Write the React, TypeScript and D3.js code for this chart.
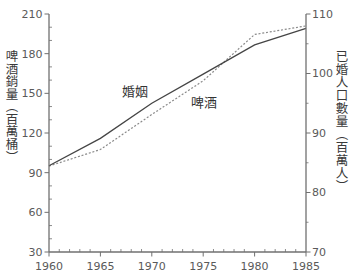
import React from "react";
import * as d3 from "d3";

const years = [1960, 1965, 1970, 1975, 1980, 1985];
const beerSales = [95, 107.5, 134, 159.5, 194.5, 201];
const marriedPop = [84.5, 89.1, 95.0, 99.9, 104.8, 107.6];
const leftTicks = [30, 60, 90, 120, 150, 180, 210];
const rightTicks = [70, 80, 90, 100, 110];
const xTicks = [1960, 1965, 1970, 1975, 1980, 1985];
const leftTitle = "啤酒銷量（百萬桶）";
const rightTitle = "已婚人口數量（百萬人）";
const marriageLabel = "婚姻";
const beerLabel = "啤酒";

const W = 359;
const H = 278;
const axisColor = "#707070";
const textColor = "#5a5a5a";
const numFont = "'DejaVu Sans', sans-serif";
const cjkFont = "'Noto Sans CJK TC', 'Noto Sans CJK SC', sans-serif";

export default function App() {
  const x = d3.scaleLinear().domain([1960, 1985]).range([49, 306]);
  const yL = d3.scaleLinear().domain([30, 210]).range([252, 14]);
  const yR = d3.scaleLinear().domain([70, 110]).range([252, 14]);

  const beerLine = d3
    .line<number>()
    .x((_, i) => x(years[i]))
    .y((d) => yL(d));
  const marLine = d3
    .line<number>()
    .x((_, i) => x(years[i]))
    .y((d) => yR(d));

  const leftMinor = d3.range(30, 211, 10).filter((v) => v % 30 !== 0);
  const rightMinor = d3.range(70, 111, 5).filter((v) => v % 10 !== 0);
  const xMinor = d3.range(1960, 1986, 1).filter((v) => v % 5 !== 0);

  const x0 = x(1960);
  const x1 = x(1985);
  const yb = yL(30);
  const yt = yL(210);

  const vstyle = { writingMode: "vertical-rl", textOrientation: "upright" } as any;

  return (
    <div style={{ position: "fixed", left: 0, top: 0, background: "#fff" }}>
      <svg width={W} height={H} style={{ display: "block" }}>
        <rect width={W} height={H} fill="#fff" />
        <path d={beerLine(beerSales) || ""} fill="none" stroke="#8a8a8a" strokeWidth={1.2} strokeDasharray="2,1.8" />
        <path d={marLine(marriedPop) || ""} fill="none" stroke="#454545" strokeWidth={1.3} />

        <line x1={x0} x2={x0} y1={yt} y2={yb} stroke={axisColor} strokeWidth={1.3} />
        <line x1={x1} x2={x1} y1={yt} y2={yb} stroke={axisColor} strokeWidth={1.3} />
        <line x1={x0} x2={x1} y1={yb} y2={yb} stroke={axisColor} strokeWidth={1.3} />

        {leftTicks.map((v) => (
          <g key={"l" + v}>
            <line x1={x0 - 4.5} x2={x0} y1={yL(v)} y2={yL(v)} stroke={axisColor} strokeWidth={1} />
            <text x={x0 - 6.5} y={yL(v)} dy="0.35em" textAnchor="end" fontFamily={numFont} fontSize={11} fill={textColor}>
              {v}
            </text>
          </g>
        ))}
        {leftMinor.map((v) => (
          <line key={"lm" + v} x1={x0} x2={x0 + 3} y1={yL(v)} y2={yL(v)} stroke={axisColor} strokeWidth={0.8} />
        ))}

        {rightTicks.map((v) => (
          <g key={"r" + v}>
            <line x1={x1} x2={x1 + 4.5} y1={yR(v)} y2={yR(v)} stroke={axisColor} strokeWidth={1} />
            <text x={x1 + 6} y={yR(v)} dy="0.35em" textAnchor="start" fontFamily={numFont} fontSize={11} fill={textColor}>
              {v}
            </text>
          </g>
        ))}
        {rightMinor.map((v) => (
          <line key={"rm" + v} x1={x1} x2={x1 + 2.5} y1={yR(v)} y2={yR(v)} stroke={axisColor} strokeWidth={0.8} />
        ))}

        {xTicks.map((v) => (
          <g key={"x" + v}>
            <line x1={x(v)} x2={x(v)} y1={yb} y2={yb + 4.5} stroke={axisColor} strokeWidth={1} />
            <text x={x(v)} y={yb + 18} textAnchor="middle" fontFamily={numFont} fontSize={11} fill={textColor}>
              {v}
            </text>
          </g>
        ))}
        {xMinor.map((v) => (
          <line key={"xm" + v} x1={x(v)} x2={x(v)} y1={yb} y2={yb - 3} stroke={axisColor} strokeWidth={0.8} />
        ))}

        <text x={135} y={91} dy="0.35em" textAnchor="middle" fontFamily={cjkFont} fontSize={13} fill="#333">
          {marriageLabel}
        </text>
        <text x={204} y={102} dy="0.35em" textAnchor="middle" fontFamily={cjkFont} fontSize={13} fill="#333">
          {beerLabel}
        </text>

        <text x={12} y={50} fontFamily={cjkFont} fontSize={12.5} fill="#3a3a3a" style={vstyle} textLength={113} lengthAdjust="spacing">
          {leftTitle}
        </text>
        <text x={342} y={50} fontFamily={cjkFont} fontSize={12.5} fill="#3a3a3a" style={vstyle} textLength={142} lengthAdjust="spacing">
          {rightTitle}
        </text>
      </svg>
    </div>
  );
}
